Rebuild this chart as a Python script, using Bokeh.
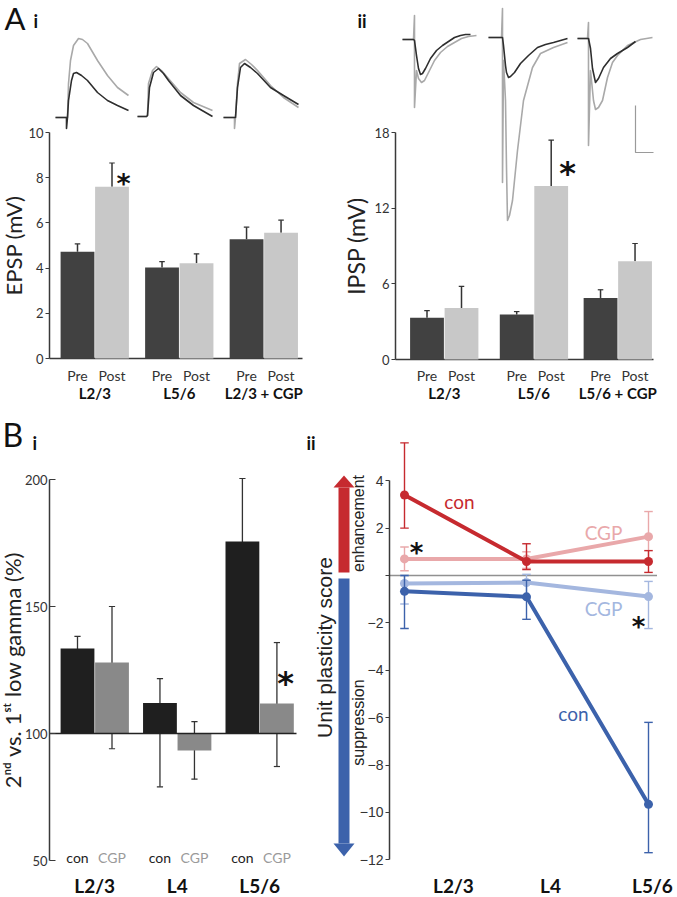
import math
from bokeh.plotting import figure
from bokeh.layouts import row, column
from bokeh.models import Range1d, FixedTicker
from bokeh.core.properties import value
from bokeh.embed import file_html
from bokeh.resources import INLINE

# ======================= DATA =======================
# A i : EPSP amplitude (mV), mean and upper SEM
epsp_groups = ["L2/3", "L5/6", "L2/3 + CGP"]
conditions = ["Pre", "Post"]
epsp_pre = [4.72, 4.03, 5.28]
epsp_pre_sem = [0.35, 0.26, 0.53]
epsp_post = [7.60, 4.22, 5.56]
epsp_post_sem = [1.05, 0.41, 0.56]

# A ii : IPSP amplitude (mV), mean and upper SEM
ipsp_groups = ["L2/3", "L5/6", "L5/6 + CGP"]
ipsp_pre = [3.32, 3.56, 4.88]
ipsp_pre_sem = [0.55, 0.24, 0.65]
ipsp_post = [4.09, 13.76, 7.80]
ipsp_post_sem = [1.71, 3.64, 1.40]

# example traces (time samples, amplitude samples), one list per group
epsp_pre_t = [[0, 10, 11, 11, 12, 13, 16, 18, 21, 26, 32, 42, 52, 62, 73],
              [0, 9, 10, 12, 16, 21, 26, 31, 43, 56, 75],
              [0, 10, 12, 14, 17, 21, 27, 34, 47, 60, 75]]
epsp_pre_v = [[0, 0, 0, -11, 0, 17, 37, 44, 45, 42, 37, 25, 17, 12, 7],
              [0, 0, 1, 29, 44, 48, 43, 36, 21, 11, 0],
              [0, 0, 0, 30, 50, 54, 50, 44, 30, 22, 13]]
epsp_post_t = [[0, 10, 12, 13, 15, 18, 23, 27, 32, 42, 52, 62, 73],
               [0, 9, 10, 11, 15, 19, 24, 30, 43, 56, 75],
               [0, 10, 11, 11, 12, 14, 16, 22, 28, 34, 47, 60, 75]]
epsp_post_v = [[0, 0, 0, 34, 57, 72, 79, 78, 74, 57, 42, 30, 22],
               [0, 0, 1, 33, 46, 50, 46, 39, 24, 14, 6],
               [0, 0, 0, -11, 0, 34, 54, 58, 53, 47, 32, 20, 10]]

ipsp_pre_t = [[0, 11, 12, 14, 16, 18, 20, 23, 28, 34, 40, 46, 52, 58, 63, 68],
              [0, 13, 14, 15, 17, 18, 20, 22, 26, 32, 40, 49, 57, 65, 72, 79],
              [0, 10, 11, 13, 15, 18, 21, 26, 33, 40, 45, 50, 54, 58]]
ipsp_pre_v = [[0, 0, -1, -16, -29, -35, -34, -29, -19, -11, -6, -2, 2, 4, 5, 5],
              [0, 0, 0, -8, -28, -35, -40, -39, -35, -26, -18, -10, -7, -5, -3, -1],
              [0, 0, 0, -10, -30, -44, -40, -29, -20, -15, -12, -9, -6, -3]]
ipsp_post_t = [[0, 11, 12, 12, 14, 16, 19, 22, 26, 32, 38, 45, 52, 59, 66, 74],
               [0, 13, 14, 14, 15, 17, 18, 19, 21, 24, 29, 35, 44, 52, 65, 79],
               [0, 10, 11, 11, 13, 16, 18, 21, 25, 30, 35, 40, 50, 63, 75]]
ipsp_post_v = [[0, 0, 24, -68, -31, -39, -43, -41, -33, -21, -13, -7, -3, 1, 3, 4],
               [0, 0, 29, -145, -23, -63, -130, -183, -178, -163, -113, -63, -30, -16, -10, -5],
               [0, 0, 16, -107, -32, -62, -71, -69, -62, -39, -24, -17, -7, -1, 1]]

# B i : 2nd vs 1st low gamma (%)
gamma_layers = ["L2/3", "L4", "L5/6"]
gamma_conds = ["con", "CGP"]
gamma_con = [133.5, 112.0, 175.6]
gamma_con_lo = [128.8, 79.0, 150.8]
gamma_con_hi = [138.2, 121.6, 200.4]
gamma_cgp = [128.0, 93.3, 111.8]
gamma_cgp_lo = [94.0, 82.0, 87.0]
gamma_cgp_hi = [150.0, 104.7, 135.8]

# B ii : unit plasticity score
score_layers = ["L2/3", "L4", "L5/6"]
con_enh = [3.40, 0.59, 0.59]
con_enh_lo = [2.00, 0.25, 0.13]
con_enh_hi = [5.60, 1.34, 1.05]
cgp_enh = [0.70, 0.70, 1.64]
cgp_enh_lo = [0.20, 0.30, 0.58]
cgp_enh_hi = [1.20, 1.00, 2.70]
con_sup = [-0.67, -0.90, -9.66]
con_sup_lo = [-2.24, -1.85, -11.70]
con_sup_hi = [0.00, -0.20, -6.20]
cgp_sup = [-0.34, -0.30, -0.89]
cgp_sup_lo = [-1.20, -0.95, -2.24]
cgp_sup_hi = [0.00, 0.05, -0.25]

# ======================= STYLE =======================
FC = "Lato"
FA = "Liberation Sans"
PRE_C = "#414141"
POST_C = "#c8c8c8"
CON_C = "#1f1f1f"
CGP_C = "#898989"
AX_C = "#3a3a3a"
TR_BLACK = "#2e2e2e"
TR_GRAY = "#a9a9a9"
RED = "#c62a2f"
PINK = "#e9a8aa"
BLUE = "#3c62ab"
LBLUE = "#a4b7df"

TOP_H = 400
BOT_H = 497


def make_fig(w, h, xr, yr):
    p = figure(width=w, height=h,
               x_range=xr if isinstance(xr, Range1d) else Range1d(*xr),
               y_range=yr if isinstance(yr, Range1d) else Range1d(*yr),
               output_backend="svg", toolbar_location=None,
               x_axis_location=None, y_axis_location="left",
               min_border_left=0, min_border_right=0, min_border_top=0, min_border_bottom=0)
    p.outline_line_color = None
    p.xgrid.visible = False
    p.ygrid.visible = False
    p.background_fill_color = "white"
    p.border_fill_color = "white"
    return p


def style_yaxis(p, at, bounds, ticks, label, font, lsize, tsize, tick_in=0, tick_out=4,
                overrides=None, label_standoff=4):
    ax = p.yaxis[0]
    ax.fixed_location = at
    ax.bounds = bounds
    ax.ticker = FixedTicker(ticks=ticks)
    ax.minor_tick_line_color = None
    ax.major_tick_in = tick_in
    ax.major_tick_out = tick_out
    ax.axis_line_color = AX_C
    ax.axis_line_width = 1.5
    ax.major_tick_line_color = AX_C
    ax.major_tick_line_width = 1
    ax.major_label_text_font = font
    ax.major_label_text_font_size = tsize
    ax.major_label_text_color = "#333333"
    ax.major_label_standoff = 2
    ax.axis_label = label
    ax.axis_label_text_font = font
    ax.axis_label_text_font_size = lsize
    ax.axis_label_text_font_style = "normal"
    ax.axis_label_text_color = "#222222"
    ax.axis_label_standoff = label_standoff
    if overrides:
        ax.major_label_overrides = overrides


def texts(p, xs, ys, labels, size, color="#222222", font=FC, style="normal", angle=0.0, align="center"):
    p.text(x=xs, y=ys, text=labels, text_font=value(font), text_font_size=value(size),
           text_color=color, text_align=align, text_baseline="middle",
           text_font_style=style, angle=angle)


def star(p, x, y, size):
    p.text(x=[x], y=[y], text=["*"], text_font=value("DejaVu Sans"), text_font_size=value(size),
           text_font_style="bold", text_color="#111111", text_align="center", text_baseline="middle")


# ======================= A i =======================
a1x = lambda px: (px - 77.0) / 34.5
a1y = lambda py: (358.0 - py) / 22.6
p1 = make_fig(340, TOP_H, (a1x(0), a1x(340)), (a1y(400), a1y(0)))
style_yaxis(p1, a1x(49), (0, 10), [0, 2, 4, 6, 8, 10], "EPSP (mV)", FC, "22px", "13px", label_standoff=-2)

g1 = [0.0, 2.45, 4.9]
pre_x = [g for g in g1]
post_x = [g + 1 for g in g1]
p1.segment(x0=[a1x(49)], y0=[0], x1=[a1x(302)], y1=[0], line_color=AX_C, line_width=1.5)
for xs, m, e in ((pre_x, epsp_pre, epsp_pre_sem), (post_x, epsp_post, epsp_post_sem)):
    top = [a + b for a, b in zip(m, e)]
    p1.segment(x0=xs, y0=m, x1=xs, y1=top, line_color="#333333", line_width=1.5)
    p1.segment(x0=[x - 0.08 for x in xs], y0=top, x1=[x + 0.08 for x in xs], y1=top,
               line_color="#333333", line_width=1.2)
p1.vbar(x=pre_x, top=epsp_pre, bottom=0, width=0.98, fill_color=PRE_C, line_color=None)
p1.vbar(x=post_x, top=epsp_post, bottom=0, width=0.98, fill_color=POST_C, line_color=None)

texts(p1, pre_x + post_x, [a1y(375)] * 6, [conditions[0]] * 3 + [conditions[1]] * 3, "14px", "#333333")
texts(p1, [g + 0.5 for g in g1], [a1y(392)] * 3, epsp_groups, "15px", "#111111", style="bold")
star(p1, a1x(123), a1y(177 + 6), "27px")

ep_start = [55, 137, 223]
ep_base = [117, 116, 117]
for i in range(3):
    x0, y0 = a1x(ep_start[i]), a1y(ep_base[i])
    p1.line([x0 + t / 34.5 for t in epsp_post_t[i]], [y0 + v / 22.6 for v in epsp_post_v[i]],
            line_color=TR_GRAY, line_width=1.6, line_join="round")
    p1.line([x0 + t / 34.5 for t in epsp_pre_t[i]], [y0 + v / 22.6 for v in epsp_pre_v[i]],
            line_color=TR_BLACK, line_width=1.6, line_join="round")

texts(p1, [a1x(4)], [a1y(17)], ["A"], "31px", "#111111", align="left")
texts(p1, [a1x(33)], [a1y(20)], ["i"], "18px", "#111111", style="bold", align="left")

# ======================= A ii =======================
a2x = lambda px: (px - 426.5) / 34.5
a2y = lambda py: (359.0 - py) / 12.61
p2 = make_fig(337, TOP_H, (a2x(340), a2x(677)), (a2y(400), a2y(0)))
style_yaxis(p2, a2x(395), (0, 18), [0, 6, 12, 18], "IPSP (mV)", FC, "23px", "13px", label_standoff=1)

g2 = [0.0, 2.6, 5.03]
pre2_x = [g for g in g2]
post2_x = [g + 1 for g in g2]
p2.segment(x0=[a2x(395)], y0=[0], x1=[a2x(653)], y1=[0], line_color=AX_C, line_width=1.5)
for xs, m, e in ((pre2_x, ipsp_pre, ipsp_pre_sem), (post2_x, ipsp_post, ipsp_post_sem)):
    top = [a + b for a, b in zip(m, e)]
    p2.segment(x0=xs, y0=m, x1=xs, y1=top, line_color="#333333", line_width=1.5)
    p2.segment(x0=[x - 0.08 for x in xs], y0=top, x1=[x + 0.08 for x in xs], y1=top,
               line_color="#333333", line_width=1.2)
p2.vbar(x=pre2_x, top=ipsp_pre, bottom=0, width=0.98, fill_color=PRE_C, line_color=None)
p2.vbar(x=post2_x, top=ipsp_post, bottom=0, width=0.98, fill_color=POST_C, line_color=None)

texts(p2, pre2_x + post2_x, [a2y(375)] * 6, [conditions[0]] * 3 + [conditions[1]] * 3, "14px", "#333333")
texts(p2, [g + 0.5 for g in g2], [a2y(392)] * 3, ipsp_groups, "15px", "#111111", style="bold")
star(p2, a2x(567), a2y(165 + 7), "32px")

ip_start = [402, 488, 577]
ip_base = [39, 37, 38]
for i in range(3):
    x0, y0 = a2x(ip_start[i]), a2y(ip_base[i])
    p2.line([x0 + t / 34.5 for t in ipsp_post_t[i]], [y0 + v / 12.61 for v in ipsp_post_v[i]],
            line_color=TR_GRAY, line_width=1.6, line_join="round")
    p2.line([x0 + t / 34.5 for t in ipsp_pre_t[i]], [y0 + v / 12.61 for v in ipsp_pre_v[i]],
            line_color=TR_BLACK, line_width=1.6, line_join="round")
# scale bar
p2.line([a2x(635), a2x(635), a2x(653)], [a2y(105), a2y(152), a2y(152)], line_color="#9a9a9a", line_width=1.2)

texts(p2, [a2x(357)], [a2y(20)], ["ii"], "18px", "#111111", style="bold", align="left")

# ======================= B i =======================
b1x = lambda px: (px - 77.0) / 34.5
b1y = lambda py: 100.0 + (733.0 - py) / 2.54
p3 = make_fig(305, BOT_H, (b1x(0), b1x(305)), (b1y(897), b1y(400)))
style_yaxis(p3, b1x(49), (50, 200), [50, 100, 150, 200], "2\u207f\u1d48 vs. 1\u02e2\u1d57 low gamma (%)", FC,
            "22px", "13px", tick_in=6, tick_out=0, label_standoff=-4)

g3 = [0.0, 2.39, 4.78]
con_x = [g for g in g3]
cgp_x = [g + 1 for g in g3]
for xs, lo, hi in ((con_x, gamma_con_lo, gamma_con_hi), (cgp_x, gamma_cgp_lo, gamma_cgp_hi)):
    p3.segment(x0=xs, y0=lo, x1=xs, y1=hi, line_color="#333333", line_width=1.3)
    p3.segment(x0=[x - 0.09 for x in xs], y0=hi, x1=[x + 0.09 for x in xs], y1=hi, line_color="#333333", line_width=1.2)
    p3.segment(x0=[x - 0.09 for x in xs], y0=lo, x1=[x + 0.09 for x in xs], y1=lo, line_color="#333333", line_width=1.2)
p3.vbar(x=con_x, top=gamma_con, bottom=100, width=0.98, fill_color=CON_C, line_color=None)
p3.vbar(x=cgp_x, top=gamma_cgp, bottom=100, width=0.98, fill_color=CGP_C, line_color=None)
p3.segment(x0=[b1x(49)], y0=[100], x1=[b1x(296)], y1=[100], line_color="#222222", line_width=1.5)

texts(p3, con_x, [b1y(857)] * 3, [gamma_conds[0]] * 3, "14px", "#222222")
texts(p3, cgp_x, [b1y(857)] * 3, [gamma_conds[1]] * 3, "14px", "#9a9a9a")
texts(p3, [g + 0.5 for g in g3], [b1y(885)] * 3, gamma_layers, "19px", "#111111", style="bold")
star(p3, b1x(285), b1y(675 + 7), "32px")

texts(p3, [b1x(2)], [b1y(434)], ["B"], "32px", "#111111", align="left")
texts(p3, [b1x(32)], [b1y(442)], ["i"], "18px", "#111111", style="bold", align="left")

# ======================= B ii =======================
b2x = lambda px: (px - 404.0) / 122.0
b2y = lambda py: (575.0 - py) / 23.69
p4 = make_fig(372, BOT_H, (b2x(305), b2x(677)), (b2y(897), b2y(400)))
style_yaxis(p4, b2x(389), (-12, 4), list(range(-12, 5, 2)), "", FA, "14px", "14px", tick_out=4,
            overrides={0: ""})

# enhancement / suppression arrows
p4.quad(left=[b2x(338)], right=[b2x(349)], bottom=[b2y(572)], top=[b2y(487)], fill_color=RED, line_color=None)
p4.patch([b2x(333), b2x(354), b2x(343.5)], [b2y(487), b2y(487), b2y(475)], fill_color=RED, line_color=None)
p4.quad(left=[b2x(338)], right=[b2x(349)], bottom=[b2y(843)], top=[b2y(578)], fill_color=BLUE, line_color=None)
p4.patch([b2x(333), b2x(354), b2x(343.5)], [b2y(843), b2y(843), b2y(856)], fill_color=BLUE, line_color=None)
texts(p4, [b2x(324)], [b2y(647)], ["Unit plasticity score"], "21px", "#222222", font=FA, angle=math.pi / 2)
texts(p4, [b2x(358)], [b2y(523)], ["enhancement"], "16px", "#222222", font=FA, angle=math.pi / 2)
texts(p4, [b2x(358)], [b2y(722)], ["suppression"], "16px", "#222222", font=FA, angle=math.pi / 2)
texts(p4, [b2x(306)], [b2y(442)], ["ii"], "18px", "#111111", style="bold", align="left")

p4.segment(x0=[b2x(389)], y0=[0], x1=[b2x(657)], y1=[0], line_color="#222222", line_width=1.3, line_dash="1 1")

lx = [0, 1, 2]
def series(p, m, lo, hi, color, lw):
    p.segment(x0=lx, y0=lo, x1=lx, y1=hi, line_color=color, line_width=1.4)
    p.segment(x0=[x - 0.035 for x in lx], y0=hi, x1=[x + 0.035 for x in lx], y1=hi, line_color=color, line_width=1.4)
    p.segment(x0=[x - 0.035 for x in lx], y0=lo, x1=[x + 0.035 for x in lx], y1=lo, line_color=color, line_width=1.4)
    p.line(lx, m, line_color=color, line_width=lw, line_join="round")
    p.scatter(lx, m, size=9, fill_color=color, line_color=None)

series(p4, cgp_enh, cgp_enh_lo, cgp_enh_hi, PINK, 4)
series(p4, cgp_sup, cgp_sup_lo, cgp_sup_hi, LBLUE, 4)
series(p4, con_enh, con_enh_lo, con_enh_hi, RED, 4)
series(p4, con_sup, con_sup_lo, con_sup_hi, BLUE, 4)

texts(p4, [b2x(459)], [b2y(501)], ["con"], "19px", RED)
texts(p4, [b2x(603)], [b2y(532)], ["CGP"], "19px", PINK)
texts(p4, [b2x(603)], [b2y(608)], ["CGP"], "19px", LBLUE)
texts(p4, [b2x(573)], [b2y(713)], ["con"], "19px", BLUE)
star(p4, b2x(416), b2y(546 + 6), "26px")
star(p4, b2x(638), b2y(620 + 6), "26px")
texts(p4, [b2x(453), b2x(550), b2x(652)], [b2y(885)] * 3, score_layers, "19px", "#111111", style="bold")

layout = column(row(p1, p2), row(p3, p4))
open("out.html", "w").write(file_html(layout, INLINE, "Figure"))
